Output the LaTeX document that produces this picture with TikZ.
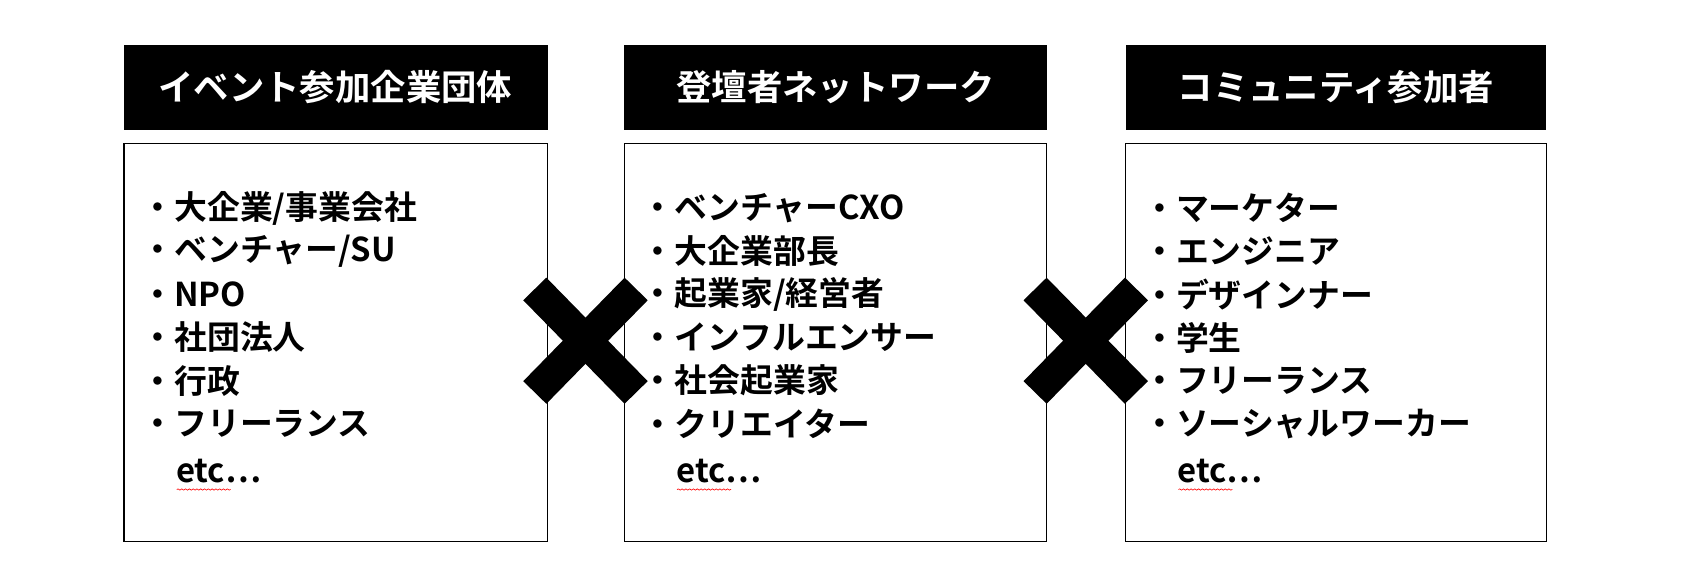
\documentclass[tikz,border=0pt]{standalone}
\usepackage{fontspec}
\setmainfont{Noto Sans CJK JP}[BoldFont={* Bold}]
\usetikzlibrary{decorations.pathmorphing}
\tikzset{%
    headbox/.style={fill=black, text=white, font=\bfseries\fontsize{28}{32}\selectfont},
    listbox/.style={draw=black, line width=0.8pt},
    item/.style={anchor=west, inner sep=0pt, font=\bfseries\fontsize{26}{30}\selectfont},
    cross/.style={line width=0.9cm},
    squiggle/.style={red, line width=0.5pt, decorate, decoration={snake, amplitude=0.5pt, segment length=3pt}},
}
\begin{document}
\begin{tikzpicture}[x=0.03cm, y=-0.03cm]

	% frame
	\useasboundingbox (0,0) rectangle (1560,540);

	% headers
	\fill (115,42) rectangle (508,121);
	\node[headbox] (hA) at (311,81) {イベント参加企業団体};
	\fill (579,42) rectangle (971,121);
	\node[headbox] (hB) at (775,81) {登壇者ネットワーク};
	\fill (1044,42) rectangle (1434,121);
	\node[headbox] (hC) at (1239,81) {コミュニティ参加者};

	% boxes
	\draw[listbox] (115,133) rectangle (508,502);
	\draw[listbox] (579,133) rectangle (971,502);
	\draw[listbox] (1044,133) rectangle (1434,502);

	% lists
	\foreach \t [count=\i] in {大企業/事業会社, ベンチャー/SU, NPO, 社団法人, 行政, フリーランス}
		\node[item] (a\i) at (131,{153+40*\i}) {・\t};
	\node[item] (aetc) at (163,437) {etc⋯};
	\foreach \t [count=\i] in {ベンチャーCXO, 大企業部長, 起業家/経営者, インフルエンサー, 社会起業家, クリエイター}
		\node[item] (b\i) at (595,{153+40*\i}) {・\t};
	\node[item] (betc) at (627,437) {etc⋯};
	\foreach \t [count=\i] in {マーケター, エンジニア, デザインナー, 学生, フリーランス, ソーシャルワーカー}
		\node[item] (c\i) at (1060,{153+40*\i}) {・\t};
	\node[item] (cetc) at (1092,437) {etc⋯};

	% spell marks
	\draw[squiggle] (164,454) -- (214,454);
	\draw[squiggle] (628,454) -- (678,454);
	\draw[squiggle] (1093,454) -- (1143,454);

	% crosses
	\draw[cross] (496,268) -- (590,364);
	\draw[cross] (496,364) -- (590,268);
	\draw[cross] (960,268) -- (1054,364);
	\draw[cross] (960,364) -- (1054,268);

\end{tikzpicture}
\end{document}
